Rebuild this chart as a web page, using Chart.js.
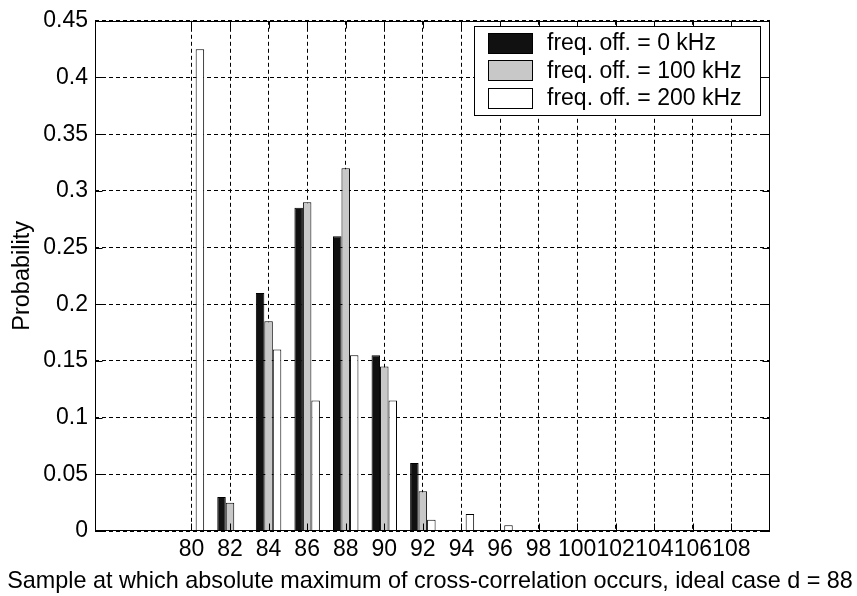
<!DOCTYPE html>
<html><head><meta charset="utf-8">
<script src="https://cdn.jsdelivr.net/npm/chart.js@4/dist/chart.umd.min.js"></script>
<style>html,body{margin:0;padding:0;background:#fff}canvas{display:block}</style>
</head><body>
<canvas id="c" width="857" height="596"></canvas>
<script>
const categories = [80, 82, 84, 86, 88, 90, 92, 94, 96, 98, 100, 102, 104, 106, 108];
const off0   = [0, 0.03, 0.21, 0.285, 0.26, 0.155, 0.06, 0, 0, 0, 0, 0, 0, 0, 0];
const off100 = [0, 0.025, 0.185, 0.29, 0.32, 0.145, 0.035, 0, 0, 0, 0, 0, 0, 0, 0];
const off200 = [0.425, 0, 0.16, 0.115, 0.155, 0.115, 0.01, 0.015, 0.005, 0, 0, 0, 0, 0, 0];
const seriesLabels = ['freq. off. = 0 kHz', 'freq. off. = 100 kHz', 'freq. off. = 200 kHz'];
const xTicks = [80, 82, 84, 86, 88, 90, 92, 94, 96, 98, 100, 102, 104, 106, 108];
const yTicks = [0, 0.05, 0.1, 0.15, 0.2, 0.25, 0.3, 0.35, 0.4, 0.45];
const xLabel = 'Sample at which absolute maximum of cross-correlation occurs, ideal case d = 88';
const yLabel = 'Probability';

const FONT = "'Liberation Sans', Arial, sans-serif";
const fills = ['#111111', '#c8c8c8', '#ffffff'];

function pts(arr) { return categories.map((c, i) => ({ x: c, y: arr[i] })); }

const decor = {
  id: 'decor',
  beforeDraw(chart) {
    const ctx = chart.ctx;
    ctx.save(); ctx.fillStyle = '#fff'; ctx.fillRect(0, 0, chart.width, chart.height); ctx.restore();
  },
  afterDraw(chart) {
    const { ctx, chartArea: a, scales: { x, y } } = chart;
    ctx.save();
    ctx.strokeStyle = '#000'; ctx.lineWidth = 1; ctx.setLineDash([]);
    const L = Math.round(a.left) + 0.5, R = Math.round(a.right) - 0.5, T = Math.round(a.top) + 0.5, B = Math.round(a.bottom) - 0.5;
    ctx.beginPath();
    xTicks.forEach(v => {
      const px = Math.round(x.getPixelForValue(v)) + 0.5;
      ctx.moveTo(px, B); ctx.lineTo(px, B - 7);
      ctx.moveTo(px, T); ctx.lineTo(px, T + 7);
    });
    yTicks.forEach(v => {
      const py = Math.round(y.getPixelForValue(v)) + 0.5;
      ctx.moveTo(L, py); ctx.lineTo(L + 7, py);
      ctx.moveTo(R, py); ctx.lineTo(R - 7, py);
    });
    ctx.stroke();
    ctx.strokeRect(L, T, R - L, B - T);
    // x-axis title (drawn here so it may extend beyond the plot width)
    ctx.fillStyle = '#000';
    ctx.font = '23.4px ' + FONT;
    ctx.textAlign = 'center';
    ctx.textBaseline = 'alphabetic';
    ctx.fillText(xLabel, 430, 588);
    // legend
    const lx = 474.5, ly = 26.5, lw = 286, lh = 89;
    ctx.fillStyle = '#fff';
    ctx.fillRect(lx, ly, lw, lh);
    ctx.strokeRect(lx, ly, lw, lh);
    ctx.font = '23px ' + FONT;
    ctx.textBaseline = 'middle';
    ctx.textAlign = 'left';
    chart.data.datasets.forEach((ds, i) => {
      const cy = 42.5 + i * 27.7;
      ctx.fillStyle = ds.backgroundColor;
      ctx.fillRect(488.5, Math.round(cy - 10) + 0.5, 44, 20);
      ctx.strokeRect(488.5, Math.round(cy - 10) + 0.5, 44, 20);
      ctx.fillStyle = '#000';
      ctx.fillText(ds.label, 547, cy + 1);
    });
    ctx.restore();
  }
};

new Chart(document.getElementById('c'), {
  type: 'bar',
  data: {
    datasets: [off0, off100, off200].map((arr, i) => ({
      label: seriesLabels[i],
      data: pts(arr),
      backgroundColor: fills[i],
      borderColor: '#000',
      borderWidth: 1,
      borderSkipped: 'start',
      categoryPercentage: 0.66,
      barPercentage: 1.0
    }))
  },
  options: {
    responsive: false,
    animation: false,
    devicePixelRatio: 1,
    layout: { padding: { left: 0, top: 17, right: 87, bottom: 0 } },
    plugins: { legend: { display: false }, tooltip: { enabled: false } },
    scales: {
      x: {
        type: 'linear',
        min: 75, max: 110,
        offset: false,
        afterBuildTicks(scale) { scale.ticks = xTicks.map(v => ({ value: v })); },
        afterFit(scale) { scale.height = 65; },
        grid: { display: true, drawTicks: false, offset: false, color: '#000', lineWidth: 1, drawOnChartArea: true },
        border: { display: false, dash: [4, 3] },
        ticks: { color: '#000', font: { family: FONT, size: 23 }, padding: 5, maxRotation: 0, autoSkip: false, callback: v => String(v) },
        title: { display: false }
      },
      y: {
        type: 'linear',
        min: 0, max: 0.45,
        afterBuildTicks(scale) { scale.ticks = yTicks.map(v => ({ value: v })); },
        afterFit(scale) { scale.width = 95; },
        grid: { display: true, drawTicks: false, color: '#000', lineWidth: 1 },
        border: { display: false, dash: [4, 3] },
        ticks: { color: '#000', font: { family: FONT, size: 23 }, padding: 7, callback: v => String(v) },
        title: { display: true, text: yLabel, color: '#000', font: { family: FONT, size: 23.5 }, padding: { top: 8, bottom: 0 } }
      }
    }
  },
  plugins: [decor]
});
</script>
</body></html>
